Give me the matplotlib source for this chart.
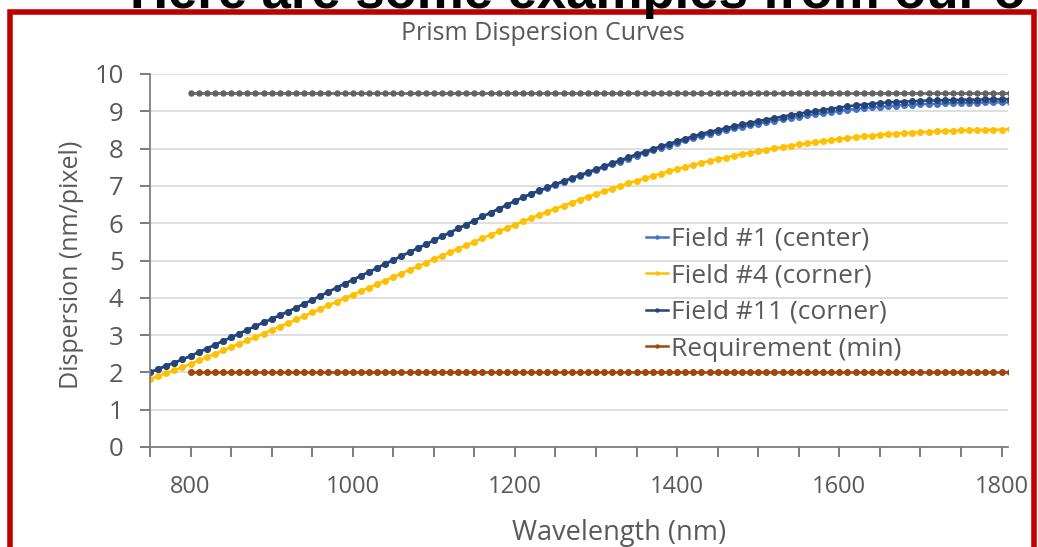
import numpy as np
import matplotlib
matplotlib.use('Agg')
import matplotlib.pyplot as plt
from matplotlib.patches import Rectangle

plt.rcParams['font.family'] = ['Open Sans', 'DejaVu Sans']

# wavelength samples (nm), one every 10 nm
wavelength = list(range(750, 1811, 10))

field1 = [2.00, 2.09, 2.18, 2.26, 2.35, 2.44, 2.54, 2.64, 2.74, 2.84,
          2.94, 3.04, 3.14, 3.24, 3.34, 3.43, 3.53, 3.63, 3.73, 3.84,
          3.94, 4.05, 4.16, 4.27, 4.38, 4.48, 4.59, 4.69, 4.80, 4.91,
          5.01, 5.12, 5.22, 5.33, 5.43, 5.54, 5.65, 5.75, 5.86, 5.96,
          6.07, 6.18, 6.28, 6.38, 6.48, 6.59, 6.69, 6.78, 6.86, 6.94,
          7.03, 7.11, 7.19, 7.27, 7.34, 7.42, 7.50, 7.58, 7.65, 7.73,
          7.81, 7.88, 7.95, 8.02, 8.08, 8.15, 8.22, 8.28, 8.34, 8.39,
          8.44, 8.49, 8.54, 8.58, 8.62, 8.67, 8.71, 8.75, 8.79, 8.82,
          8.85, 8.89, 8.92, 8.95, 8.98, 9.01, 9.04, 9.06, 9.09, 9.11,
          9.12, 9.14, 9.15, 9.17, 9.18, 9.19, 9.20, 9.20, 9.21, 9.22,
          9.23, 9.23, 9.23, 9.24, 9.24, 9.24, 9.24]

field4 = [1.82, 1.90, 1.98, 2.06, 2.14, 2.23, 2.32, 2.41, 2.50, 2.59,
          2.68, 2.77, 2.86, 2.95, 3.04, 3.14, 3.23, 3.32, 3.42, 3.51,
          3.61, 3.70, 3.80, 3.89, 3.99, 4.08, 4.18, 4.27, 4.37, 4.46,
          4.56, 4.65, 4.75, 4.84, 4.94, 5.03, 5.13, 5.22, 5.32, 5.41,
          5.50, 5.60, 5.69, 5.78, 5.87, 5.96, 6.05, 6.14, 6.22, 6.31,
          6.39, 6.47, 6.55, 6.63, 6.71, 6.78, 6.86, 6.93, 7.00, 7.07,
          7.14, 7.20, 7.27, 7.33, 7.39, 7.45, 7.51, 7.56, 7.62, 7.67,
          7.72, 7.76, 7.81, 7.85, 7.89, 7.93, 7.97, 8.01, 8.04, 8.08,
          8.11, 8.14, 8.17, 8.20, 8.23, 8.26, 8.28, 8.31, 8.33, 8.35,
          8.37, 8.39, 8.40, 8.42, 8.43, 8.44, 8.45, 8.46, 8.47, 8.48,
          8.49, 8.49, 8.50, 8.50, 8.51, 8.51, 8.52]

field11 = [2.00, 2.09, 2.18, 2.26, 2.35, 2.44, 2.54, 2.64, 2.74, 2.84,
           2.94, 3.04, 3.14, 3.24, 3.34, 3.43, 3.53, 3.63, 3.73, 3.84,
           3.94, 4.05, 4.16, 4.27, 4.38, 4.48, 4.59, 4.69, 4.80, 4.91,
           5.01, 5.12, 5.22, 5.33, 5.43, 5.54, 5.65, 5.75, 5.86, 5.96,
           6.07, 6.18, 6.28, 6.39, 6.49, 6.60, 6.70, 6.79, 6.88, 6.96,
           7.05, 7.13, 7.21, 7.29, 7.37, 7.45, 7.53, 7.61, 7.69, 7.77,
           7.85, 7.92, 7.99, 8.06, 8.13, 8.20, 8.27, 8.33, 8.40, 8.45,
           8.50, 8.55, 8.60, 8.65, 8.69, 8.74, 8.78, 8.82, 8.86, 8.90,
           8.93, 8.97, 9.00, 9.04, 9.07, 9.10, 9.13, 9.16, 9.18, 9.20,
           9.22, 9.24, 9.25, 9.26, 9.27, 9.28, 9.29, 9.29, 9.30, 9.30,
           9.31, 9.31, 9.31, 9.32, 9.32, 9.32, 9.32]

# requirement lines start at 800 nm
req_wavelength = list(range(800, 1811, 10))
req_min = [2.0] * len(req_wavelength)
req_max = [9.5] * len(req_wavelength)

W, H = 1038, 547
fig = plt.figure(figsize=(W / 100, H / 100), dpi=100)
ax = fig.add_axes([150 / W, 100 / H, 858 / W, 373 / H])

ax.plot(wavelength, field1, color='#4472C4', lw=1.8, marker='o', ms=4,
        label='Field #1 (center)')
ax.plot(wavelength, field4, color='#FFC000', lw=1.8, marker='o', ms=4,
        label='Field #4 (corner)')
ax.plot(wavelength, field11, color='#264478', lw=1.8, marker='o', ms=4,
        label='Field #11 (corner)')
ax.plot(req_wavelength, req_min, color='#9E480E', lw=1.8, marker='o', ms=4,
        label='Requirement (min)')
ax.plot(req_wavelength, req_max, color='#636363', lw=1.8, marker='o', ms=3.6,
        label='_nolegend_')

ax.set_xlim(750, 1808)
ax.set_ylim(0, 10)
ax.set_yticks(range(0, 11))
xt = list(range(750, 1801, 50))
ax.set_xticks(xt)
ax.set_xticklabels([str(v) if v % 200 == 0 else '' for v in xt])

ax.grid(axis='y', color='#D9D9D9', lw=1.2)
ax.set_axisbelow(True)
for s in ['top', 'right']:
    ax.spines[s].set_visible(False)
for s in ['left', 'bottom']:
    ax.spines[s].set_color('#7F7F7F')
    ax.spines[s].set_linewidth(1.3)
ax.tick_params(axis='both', colors='#595959', length=7, width=1.1,
               direction='out')
ax.tick_params(axis='x', pad=13, labelsize=17)
ax.tick_params(axis='y', pad=12, labelsize=18.5)
for t in ax.get_xticklines() + ax.get_yticklines():
    t.set_color('#3F3F3F')

leg = ax.legend(loc='upper left', bbox_to_anchor=(622 / W, 1 - 203 / H),
                bbox_transform=fig.transFigure, frameon=False, fontsize=19,
                handlelength=0.85, handletextpad=0.1, labelspacing=0.44,
                markerscale=0.55)
for txt in leg.get_texts():
    txt.set_color('#595959')

fig.text(543 / W, 1 - 34 / H, 'Prism Dispersion Curves', ha='center',
         va='center', fontsize=18, color='#595959')
fig.text(72 / W, 1 - 265 / H, 'Dispersion (nm/pixel)', rotation=90,
         ha='center', va='center', fontsize=18, color='#595959')
fig.text(619 / W, 1 - 533 / H, 'Wavelength (nm)', ha='center', va='center',
         fontsize=19.5, color='#595959')

# slide title, mostly cut off by the top edge
fig.text(130 / W, 1 - 8 / H, 'Here are some examples from our o',
         family=['Liberation Sans', 'DejaVu Sans'], fontweight='bold',
         fontsize=38, color='black', ha='left', va='baseline')

# red frame
fig.patches.append(Rectangle((10 / W, -0.1), 1024 / W, 1.1 - 12 / H,
                             transform=fig.transFigure, fill=False,
                             ec='#C00000', lw=4))

fig.savefig('out.png', dpi=100)
